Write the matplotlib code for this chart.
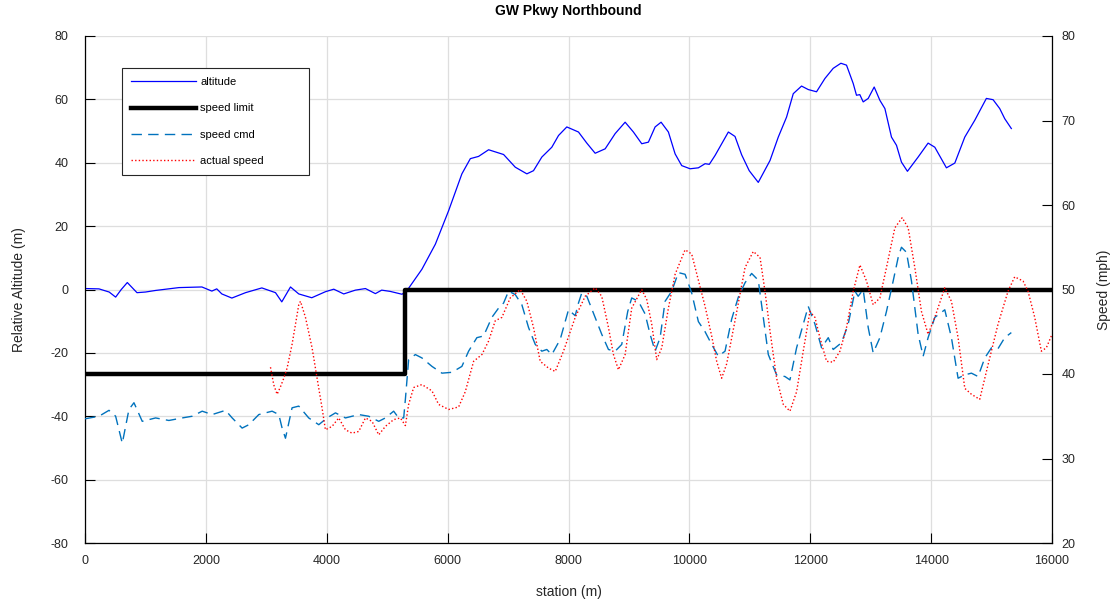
import matplotlib
matplotlib.use("Agg")
import matplotlib.pyplot as plt

plt.rcParams['font.family'] = ['Liberation Sans', 'DejaVu Sans']
plt.rcParams['axes.unicode_minus'] = False

# altitude (m) vs station (m)
alt_station = [0, 231, 400, 507, 600, 700, 860, 1000, 1168, 1554, 1934, 2099, 2180,
               2264, 2430, 2656, 2926, 3152, 3256, 3400, 3537, 3752, 3978, 4116, 4281,
               4474, 4640, 4805, 4909, 5050, 5245, 5322, 5575, 5797, 6017, 6236, 6376,
               6512, 6678, 6926, 7119, 7311, 7421, 7559, 7724, 7835, 7972, 8165, 8303,
               8441, 8607, 8772, 8937, 9074, 9212, 9322, 9433, 9532, 9653, 9764, 9873,
               10012, 10149, 10260, 10330, 10425, 10645, 10755, 10865, 10990, 11140,
               11334, 11471, 11608, 11719, 11856, 11967, 12104, 12243, 12380, 12507,
               12600, 12711, 12765, 12820, 12876, 12959, 13058, 13152, 13235, 13344,
               13427, 13509, 13608, 13785, 13950, 14061, 14253, 14392, 14557, 14722,
               14914, 15025, 15135, 15218, 15327]
altitude = [0.3, 0.2, -0.8, -2.4, 0.0, 2.2, -1.0, -0.8, -0.3, 0.6, 0.8, -0.5, 0.2,
            -1.4, -2.7, -1.0, 0.5, -1.0, -3.9, 0.8, -1.4, -2.6, -0.7, 0.1, -1.4,
            -0.2, 0.3, -1.3, -0.2, -0.6, -1.5, -0.5, 6.4, 14.3, 24.9, 36.5, 41.3,
            42.0, 44.1, 42.6, 38.6, 36.5, 37.5, 41.8, 44.9, 48.6, 51.3, 49.7, 46.2,
            43.0, 44.4, 49.2, 52.8, 49.7, 46.0, 46.5, 51.3, 52.8, 49.7, 42.8, 39.1,
            38.1, 38.4, 39.7, 39.5, 42.3, 49.7, 48.3, 42.5, 37.5, 33.8,
            40.7, 48.1, 54.4, 61.8, 64.2, 63.1, 62.4, 66.6, 69.8, 71.4,
            70.8, 65.0, 61.3, 61.5, 59.2, 60.3, 63.9, 59.7, 57.1, 48.1,
            45.5, 40.2, 37.3, 41.8, 46.2, 44.9, 38.4, 39.9, 48.1, 53.4,
            60.3, 59.9, 57.1, 53.9, 50.8]

# speed limit (mph)
limit_station = [0, 5300, 16000]
limit_speed = [40, 50, 50]

# commanded speed (mph)
cmd_station = [0, 231, 397, 507, 617, 727, 810, 947, 1168, 1388, 1608, 1773, 1939,
               2104, 2326, 2435, 2600, 2711, 2876, 3096, 3207, 3261, 3317, 3426, 3537,
               3702, 3868, 4005, 4144, 4309, 4529, 4694, 4860, 4970, 5107, 5190, 5273,
               5301, 5355, 5466, 5575, 5741, 5906, 6071, 6236, 6347, 6484, 6595, 6732,
               6843, 6926, 7008, 7119, 7228, 7339, 7450, 7559, 7641, 7724, 7863, 8000,
               8111, 8165, 8220, 8303, 8413, 8550, 8661, 8772, 8881, 8980, 9046, 9157,
               9268, 9350, 9433, 9516, 9598, 9708, 9818, 9929, 10038, 10149, 10260,
               10369, 10479, 10590, 10700, 10810, 10921, 11030, 11140, 11223, 11306,
               11443, 11582, 11664, 11774, 11884, 11967, 12078, 12187, 12298, 12380,
               12517, 12628, 12739, 12793, 12876, 12959, 13041, 13152, 13261, 13372,
               13455, 13509, 13592, 13675, 13785, 13868, 13950, 14061, 14226, 14336,
               14446, 14557, 14667, 14777, 14888, 14998, 15107, 15218, 15327]
cmd_speed = [34.7, 35.0, 35.7, 35.0, 31.8, 35.8, 36.6, 34.4, 34.8, 34.5, 34.8, 35.0, 35.6,
             35.2, 35.7, 34.8, 33.6, 34.0, 35.2, 35.6, 35.2, 33.6, 32.4, 36.0, 36.2,
             34.8, 34.0, 34.8, 35.4, 34.8, 35.2, 35.0, 34.4, 34.8, 35.6, 34.8, 34.8,
             37.0, 41.7, 42.3, 41.9, 40.9, 40.1, 40.2, 40.9, 42.7, 44.3, 44.5, 46.7,
             47.8, 48.4, 49.8, 49.4, 48.2, 45.5, 43.5, 42.7, 42.9, 42.3, 44.1, 47.6,
             46.9, 48.4, 49.6, 49.2, 47.2, 44.7, 42.9, 42.7, 43.5, 47.4, 49.0, 48.6,
             47.1, 44.7, 42.7, 44.3, 48.6, 49.8, 52.0, 51.8, 49.6, 46.2, 45.0,
             43.5, 42.1, 42.7, 46.5, 49.1, 50.8, 51.9, 51.1, 46.7, 42.3,
             39.9, 39.7, 39.3, 43.1, 45.9, 48.0, 45.9, 43.1, 44.3, 42.9,
             43.7, 45.9, 49.8, 49.2, 50.0, 45.5, 42.5, 44.3, 47.4, 51.0,
             53.8, 55.0, 54.4, 51.0, 44.7, 42.1, 44.3, 46.7, 47.6, 44.3,
             39.5, 39.9, 40.1, 39.7, 41.9, 43.1, 43.0, 44.3, 44.9]

# actual speed (mph)
act_station = [3069, 3124, 3179, 3235, 3289, 3344, 3426, 3483, 3537, 3565, 3648, 3757,
               3840, 3922, 3978, 4088, 4198, 4309, 4418, 4529, 4640, 4749, 4860, 4970,
               5107, 5218, 5301, 5355, 5438, 5575, 5741, 5851, 6017, 6182, 6292, 6430,
               6567, 6678, 6788, 6898, 7036, 7202, 7311, 7421, 7532, 7669, 7780, 7917,
               8111, 8276, 8441, 8550, 8661, 8744, 8826, 8937, 9046, 9212, 9295, 9377,
               9460, 9543, 9653, 9764, 9929, 10038, 10149, 10260, 10369, 10452, 10534,
               10617, 10755, 10921, 11058, 11169, 11251, 11334, 11443, 11554, 11664,
               11774, 11884, 11995, 12078, 12160, 12270, 12380, 12491, 12600, 12711,
               12822, 12931, 13041, 13152, 13261, 13400, 13521, 13620, 13730, 13840,
               13950, 14061, 14226, 14336, 14446, 14557, 14667, 14804, 14942, 15107,
               15273, 15383, 15521, 15603, 15714, 15824, 15906, 15989]
act_speed = [40.8, 38.7, 37.6, 38.5, 39.5, 40.7, 43.5, 45.9, 48.2, 48.6, 46.7, 43.1,
             39.5, 36.0, 33.4, 33.8, 34.8, 33.4, 33.0, 33.2, 34.8, 34.4, 32.8, 33.8,
             34.6, 34.8, 33.9, 36.4, 38.4, 38.75, 38.0, 36.4, 35.8, 36.1, 37.9, 41.5,
             42.3, 43.9, 46.3, 46.7, 49.0, 50.0, 48.6, 45.5, 41.5, 40.7, 40.3, 42.7,
             46.7, 49.2, 50.2, 49.2, 45.5, 42.3, 40.5, 42.3, 47.8, 50.0, 48.8, 45.9,
             41.7, 43.1, 47.8, 51.8, 54.7, 54.2, 51.1, 48.0, 44.5, 41.5, 39.5,
             41.2, 46.3, 52.6, 54.5, 53.8, 49.8, 45.1, 39.5, 36.4, 35.6,
             37.9, 42.7, 47.4, 46.7, 44.3, 41.5, 41.4, 42.7, 45.5, 49.8,
             52.9, 51.0, 48.2, 49.0, 52.6, 57.3, 58.5, 57.3, 52.6, 47.4,
             44.7, 46.7, 50.2, 48.6, 44.3, 38.3, 37.6, 37.0, 41.1, 45.9,
             49.8, 51.5, 51.0, 49.8, 46.7, 42.7, 43.1, 44.5]

x_ticks = [0, 2000, 4000, 6000, 8000, 10000, 12000, 14000, 16000]
alt_ticks = [-80, -60, -40, -20, 0, 20, 40, 60, 80]
speed_ticks = [20, 30, 40, 50, 60, 70, 80]


def main():
    fig = plt.figure(figsize=(11.19, 6.07), dpi=100)
    ax = fig.add_axes([85 / 1119, 64 / 607, 967 / 1119, 507 / 607])
    ax2 = ax.twinx()

    h_alt, = ax.plot(alt_station, altitude, color='#0000ff', lw=0.9, label='altitude')
    h_lim, = ax2.plot(limit_station, limit_speed, color='black', lw=3.2,
                      drawstyle='steps-post', label='speed limit')
    h_cmd, = ax2.plot(cmd_station, cmd_speed, color='#0072bd', lw=1.0,
                      dashes=(7.5, 4.5), label='speed cmd')
    h_act, = ax2.plot(act_station, act_speed, color='#ff0000', lw=1.0,
                      dashes=(1, 1.6), label='actual speed')

    ax.set_xlim(0, 16000)
    ax.set_ylim(-80, 80)
    ax2.set_ylim(20, 80)
    ax.set_xticks(x_ticks)
    ax.set_yticks(alt_ticks)
    ax2.set_yticks(speed_ticks)

    ax.grid(True, color='#dedede', lw=0.9)
    ax.set_axisbelow(True)

    for a in (ax, ax2):
        a.spines['top'].set_visible(False)
        for s in a.spines.values():
            s.set_linewidth(0.9)
    ax.spines['right'].set_visible(False)
    ax2.spines['left'].set_visible(False)
    ax2.spines['bottom'].set_visible(False)

    ax.tick_params(axis='y', direction='in', length=7, width=0.8, pad=12,
                   labelsize=9, labelcolor='#262626')
    ax.tick_params(axis='x', direction='in', length=7, width=0.8, pad=9,
                   labelsize=9, labelcolor='#262626', top=False)
    ax2.tick_params(axis='y', direction='in', length=7, width=0.8, pad=7,
                    labelsize=9, labelcolor='#262626')

    ax.set_title('GW Pkwy Northbound', fontsize=10, fontweight='bold', pad=15)
    ax.set_xlabel('station (m)', fontsize=10, color='#262626')
    ax.set_ylabel('Relative Altitude (m)', fontsize=10, color='#262626')
    ax2.set_ylabel('Speed (mph)', fontsize=10, color='#262626')
    ax.xaxis.set_label_coords(0.5, -0.083)
    ax.yaxis.set_label_coords(-0.061, 0.5)
    ax2.yaxis.set_label_coords(1.047, 0.5)

    leg = ax2.legend(handles=[h_alt, h_lim, h_cmd, h_act], loc='upper left',
                     bbox_to_anchor=(0.0386, 0.936 - 0.215, 0.1934, 0.215),
                     mode='expand', borderaxespad=0, fontsize=8,
                     handlelength=5.8, handletextpad=0.4, labelspacing=1.45,
                     borderpad=0.8, fancybox=False, framealpha=1,
                     edgecolor='#262626')
    leg.get_frame().set_linewidth(0.8)

    fig.savefig('out.png', dpi=100)


if __name__ == "__main__":
    main()
